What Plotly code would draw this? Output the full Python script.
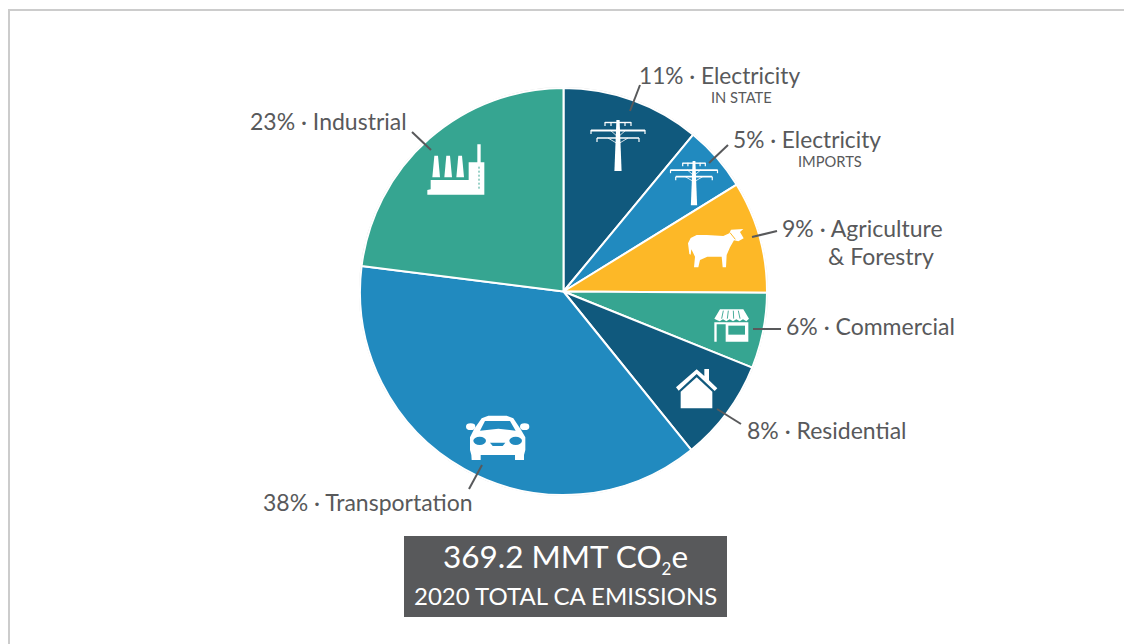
import plotly.graph_objects as go

W, H = 1124, 644
categories = ["Electricity in state", "Electricity imports", "Agriculture & Forestry",
              "Commercial", "Residential", "Transportation", "Industrial"]
values = [11, 5.2, 8.9, 6, 8.1, 37.8, 23]
colors = ["#10597d", "#218abf", "#fdb827", "#36a591", "#10597d", "#218abf", "#36a591"]
TEXT = "#58595b"
FONT = "Lato"

fig = go.Figure(go.Pie(
    labels=categories, values=values, sort=False, direction="clockwise", rotation=0,
    marker=dict(colors=colors, line=dict(color="white", width=2)),
    textinfo="none", hoverinfo="label+percent", showlegend=False,
    domain=dict(x=[360 / W, 767 / W], y=[1 - 495 / H, 1 - 88 / H]),
))

shapes = []

def px(x):
    return x / W

def py(y):
    return 1 - y / H

def poly(pts, fill="white", close=True, line=None, lw=0):
    d = "M" + " L".join(f"{px(x):.5f},{py(y):.5f}" for x, y in pts) + (" Z" if close else "")
    shapes.append(dict(type="path", xref="paper", yref="paper", path=d, layer="above",
                       fillcolor=fill if close else "rgba(0,0,0,0)",
                       line=dict(color=line or "rgba(0,0,0,0)", width=lw)))

def seg(x0, y0, x1, y1, color="white", lw=1.0):
    shapes.append(dict(type="line", xref="paper", yref="paper", layer="above",
                       x0=px(x0), y0=py(y0), x1=px(x1), y1=py(y1), line=dict(color=color, width=lw)))

def ell(x0, y0, x1, y1, fill="white", line=None, lw=0, layer="above"):
    shapes.append(dict(type="circle", xref="paper", yref="paper", layer=layer,
                       x0=px(x0), y0=py(y0), x1=px(x1), y1=py(y1), fillcolor=fill,
                       line=dict(color=line or "rgba(0,0,0,0)", width=lw)))

def zoomed(ox, oy, pts):
    return [(ox + x / 3, oy + y / 3) for x, y in pts]

# frame
seg(9, 10, W, 10, "#cccccc", 2)
seg(9, 9, 9, H, "#cccccc", 2)

# thin ring around the pie
ell(359.5, 87.5, 767.5, 495.5, "rgba(0,0,0,0)", "#d4d4d4", 1, layer="below")

# towers
def tower(cx, top, s):
    poly([(cx - 1.6 * s, top), (cx + 1.6 * s, top), (cx + 3.6 * s, top + 51 * s), (cx - 3.6 * s, top + 51 * s)])
    seg(cx - 13 * s, top + 2.5 * s, cx + 13 * s, top + 2.5 * s, lw=1.4)
    seg(cx - 27 * s, top + 10.5 * s, cx + 27 * s, top + 10.5 * s, lw=1.8)
    seg(cx - 21 * s, top + 18 * s, cx + 21 * s, top + 18 * s, lw=1.6)
    for dx, y0, y1 in [(-27, 10, 14), (27, 10, 14), (-21, 18, 22), (21, 18, 22), (-13, 2, 6), (13, 2, 6),
                       (-7, 2, 6), (7, 2, 6)]:
        seg(cx + dx * s, top + y0 * s, cx + dx * s, top + y1 * s, lw=1.2)
    seg(cx - 8 * s, top + 10 * s, cx, top + 17 * s, lw=0.8)
    seg(cx + 8 * s, top + 10 * s, cx, top + 17 * s, lw=0.8)
    seg(cx - 10 * s, top + 18 * s, cx, top + 24 * s, lw=0.8)
    seg(cx + 10 * s, top + 18 * s, cx, top + 24 * s, lw=0.8)

tower(618, 120, 1.0)
tower(694, 161, 0.87)

# cow
poly(zoomed(560, 60, [(388, 582), (384, 550), (392, 534), (410, 525), (440, 525), (490, 528), (508, 520),
                      (513, 509), (550, 507), (540, 516), (551, 535), (535, 544), (522, 541), (510, 562),
                      (500, 585), (498, 622), (488, 622), (485, 590), (442, 590), (420, 600), (415, 622),
                      (402, 622), (405, 590), (394, 568), (392, 584)]))
seg(560 + 510 / 3, 60 + 518 / 3, 560 + 526 / 3, 60 + 538 / 3, "#fdb827", 1)

# shop
poly(zoomed(660, 290, [(163, 97), (265, 97), (265, 155), (197, 155), (197, 103), (170, 103), (170, 155), (163, 155)]))
poly(zoomed(660, 290, [(205, 107), (255, 107), (255, 134), (205, 134)]), fill="#36a591")
poly(zoomed(660, 290, [(163, 86), (180, 58), (250, 58), (267, 86), (259, 94), (249, 88), (239, 94), (229, 88),
                       (219, 94), (209, 88), (199, 94), (189, 88), (179, 94), (170, 90)]))
for x0, x1 in [(190, 185), (205, 202), (220, 221), (235, 240)]:
    seg(660 + x0 / 3, 290 + 62 / 3, 660 + x1 / 3, 290 + 86 / 3, "#36a591", 0.9)

# house
poly(zoomed(660, 290, [(62, 355), (157, 355), (157, 305), (110, 262), (62, 305)]))
poly(zoomed(660, 290, [(48, 292), (110, 238), (133, 258), (133, 237), (147, 237), (147, 271), (172, 295),
                       (164, 303), (110, 252), (56, 302)]))

# factory
poly(zoomed(240, 100, [(562, 284), (733, 284), (733, 187), (722, 187), (722, 133), (712, 133), (712, 187),
                       (686, 187), (686, 240), (682, 240), (682, 240), (572, 240), (572, 268), (562, 270)]))
for x0 in (578, 614, 650):
    poly(zoomed(240, 100, [(x0 + 5, 167), (x0 + 16, 167), (x0 + 22, 232), (x0 - 1, 232)]))
seg(240 + 572 / 3, 100 + 236 / 3, 240 + 682 / 3, 100 + 236 / 3, "#36a591", 0.8)
for y in (200, 212, 224, 236, 248, 260):
    seg(240 + 717 / 3, 100 + y / 3, 240 + 717 / 3, 100 + (y + 6) / 3, "#36a591", 1)

# car
poly(zoomed(250, 400, [(665, 180), (692, 180), (692, 165), (795, 165), (795, 180), (822, 180), (822, 165),
                       (826, 150), (826, 112), (812, 88), (790, 55), (770, 47), (715, 47), (695, 55),
                       (672, 88), (660, 112), (660, 150), (664, 165)]))
ell(250 + 648 / 3, 400 + 70 / 3, 250 + 676 / 3, 400 + 90 / 3)
ell(250 + 810 / 3, 400 + 70 / 3, 250 + 838 / 3, 400 + 90 / 3)
poly(zoomed(250, 400, [(690, 92), (705, 63), (780, 63), (797, 92), (745, 86)]), fill="#218abf")
ell(250 + 670 / 3, 400 + 110 / 3, 250 + 708 / 3, 400 + 135 / 3, "#218abf")
ell(250 + 778 / 3, 400 + 110 / 3, 250 + 816 / 3, 400 + 135 / 3, "#218abf")
poly(zoomed(250, 400, [(720, 128), (766, 128), (758, 138), (728, 138)]), fill="#218abf")

# leader lines
leaders = [(640, 85, 630, 111), (728, 145, 709, 163), (777, 231, 752, 237), (781, 329, 753, 329),
           (741, 424, 717, 409), (482, 465, 469, 489), (412, 132, 431, 150)]
for x0, y0, x1, y1 in leaders:
    seg(x0, y0, x1, y1, TEXT, 2)

# total box
shapes.append(dict(type="rect", xref="paper", yref="paper", layer="above", x0=px(404), x1=px(727),
                   y0=py(617), y1=py(536), fillcolor=TEXT, line=dict(width=0)))

labels = [
    ("11% · Electricity", 637.5, 75.5, 22.7, "left", TEXT),
    ("IN STATE", 741.5, 96.5, 14.7, "center", TEXT),
    ("5% · Electricity", 732, 139, 22.7, "left", TEXT),
    ("IMPORTS", 830, 161, 14.7, "center", TEXT),
    ("9% · Agriculture", 780.5, 228, 23, "left", TEXT),
    ("& Forestry", 826.5, 256, 23, "left", TEXT),
    ("6% · Commercial", 784.5, 325.5, 23, "left", TEXT),
    ("8% · Residential", 745.5, 429.5, 23, "left", TEXT),
    ("38% · Transportation", 262, 501.5, 23, "left", TEXT),
    ("23% · Industrial", 248.5, 121.5, 23, "left", TEXT),
    ("369.2 MMT CO<sub><span style='font-size:17px'>2</span></sub>e", 565.5, 558, 31.5, "center", "white"),
    ("2020 TOTAL CA EMISSIONS", 565.5, 595.5, 24, "center", "white"),
]
annotations = [dict(text=t, x=px(x), y=py(y), xref="paper", yref="paper", xanchor=a, yanchor="middle",
                    showarrow=False, align=a, borderpad=0, font=dict(family=FONT, size=s, color=c))
               for t, x, y, s, a, c in labels]

fig.update_layout(width=W, height=H, margin=dict(l=0, r=0, t=0, b=0), paper_bgcolor="white",
                  shapes=shapes, annotations=annotations, showlegend=False)
fig.write_html("out.html", config=dict(displayModeBar=False),
               post_script="document.body.style.margin='0';document.body.style.overflow='hidden';")
